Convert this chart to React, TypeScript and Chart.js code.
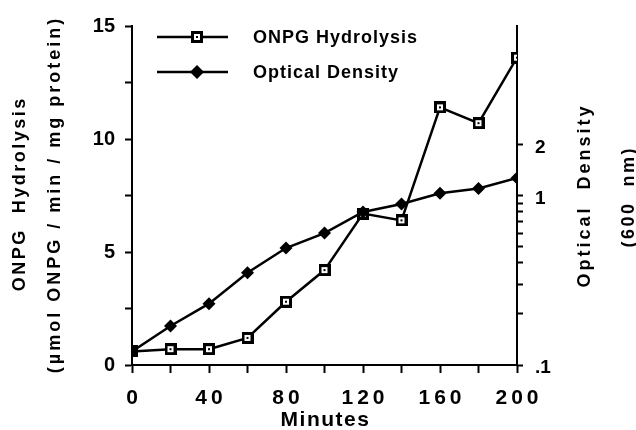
import React, { useEffect, useRef } from 'react';
import { Chart, registerables } from 'chart.js';

Chart.register(...registerables);

const minutes = [0, 20, 40, 60, 80, 100, 120, 140, 160, 180, 200];
const onpgHydrolysis = [0.6, 0.7, 0.7, 1.2, 2.8, 4.2, 6.7, 6.4, 11.4, 10.7, 13.6];
const opticalDensity = [0.12, 0.17, 0.23, 0.35, 0.49, 0.6, 0.8, 0.89, 1.03, 1.1, 1.27];

const xLabeledTicks = [0, 40, 80, 120, 160, 200];
const leftLabeledTicks = [0, 5, 10, 15];
const rightTickValues = [0.1, 0.2, 0.3, 0.4, 0.5, 0.6, 0.7, 0.8, 0.9, 1, 2];
const rightTickLabels: Record<string, string> = { '0.1': '.1', '1': '1', '2': '2' };
const seriesNames = ['ONPG Hydrolysis', 'Optical Density'];
const leftTitle = ['ONPG  Hydrolysis', '(µmol ONPG / min / mg protein)'];
const rightTitle = ['Optical  Density', '(600  nm)'];
const xTitle = 'Minutes';

const FONT = '"Liberation Sans", Arial, Helvetica, sans-serif';

function makeSquare(): HTMLCanvasElement {
  const c = document.createElement('canvas');
  c.width = 12;
  c.height = 12;
  const g = c.getContext('2d')!;
  g.fillStyle = '#000';
  g.fillRect(0, 0, 12, 12);
  g.fillStyle = '#fff';
  g.fillRect(3, 3, 6, 6);
  g.fillStyle = '#000';
  g.fillRect(5, 5, 2, 2);
  return c;
}

function drawRotated(ctx: CanvasRenderingContext2D, text: string, x: number, y: number, spacing: number) {
  ctx.save();
  ctx.translate(x, y);
  ctx.rotate(-Math.PI / 2);
  (ctx as any).letterSpacing = spacing + 'px';
  ctx.textAlign = 'center';
  ctx.textBaseline = 'middle';
  ctx.fillText(text, spacing / 2, 0);
  ctx.restore();
}

export default function App() {
  const ref = useRef<HTMLCanvasElement | null>(null);

  useEffect(() => {
    document.body.style.margin = '0';
    const canvas = ref.current!;
    const square = makeSquare();

    const textPlugin = {
      id: 'texts',
      afterDraw(chart: any) {
        const ctx: CanvasRenderingContext2D = chart.ctx;
        const xs = chart.scales.x;
        ctx.save();
        ctx.fillStyle = '#000';
        ctx.textAlign = 'center';
        ctx.textBaseline = 'middle';

        // x tick labels
        ctx.font = `bold 21px ${FONT}`;
        (ctx as any).letterSpacing = '4px';
        xLabeledTicks.forEach((v) => ctx.fillText(String(v), xs.getPixelForValue(v) + 2, 398));

        // x title
        (ctx as any).letterSpacing = '1.5px';
        ctx.fillText(xTitle, (chart.chartArea.left + chart.chartArea.right) / 2 + 1, 420);

        // axis titles
        ctx.font = `bold 18px ${FONT}`;
        drawRotated(ctx, leftTitle[0], 20, 195, 2.5);
        drawRotated(ctx, leftTitle[1], 55, 196, 3);
        drawRotated(ctx, rightTitle[0], 585, 197, 3);
        drawRotated(ctx, rightTitle[1], 629, 198, 2.5);

        // legend
        ctx.strokeStyle = '#000';
        ctx.lineWidth = 2.5;
        const rows = [37, 72];
        rows.forEach((y, i) => {
          ctx.beginPath();
          ctx.moveTo(157, y);
          ctx.lineTo(228, y);
          ctx.stroke();
          if (i === 0) {
            ctx.drawImage(square, 197 - 6, y - 6);
          } else {
            ctx.beginPath();
            ctx.moveTo(197, y - 7);
            ctx.lineTo(204, y);
            ctx.lineTo(197, y + 7);
            ctx.lineTo(190, y);
            ctx.closePath();
            ctx.fillStyle = '#000';
            ctx.fill();
          }
          ctx.fillStyle = '#000';
          ctx.font = `bold 18px ${FONT}`;
          (ctx as any).letterSpacing = '1px';
          ctx.textAlign = 'left';
          ctx.fillText(seriesNames[i], 253, y + 1);
        });
        ctx.restore();
      },
    };

    const chart = new Chart(canvas, {
      type: 'line',
      data: {
        datasets: [
          {
            label: seriesNames[1],
            data: minutes.map((m, i) => ({ x: m, y: opticalDensity[i] })),
            yAxisID: 'yR',
            borderColor: '#000',
            borderWidth: 2.5,
            pointStyle: 'rectRot',
            pointRadius: 6.5,
            pointBackgroundColor: '#000',
            pointBorderColor: '#000',
            pointBorderWidth: 0,
            tension: 0,
          },
          {
            label: seriesNames[0],
            data: minutes.map((m, i) => ({ x: m, y: onpgHydrolysis[i] })),
            yAxisID: 'y',
            borderColor: '#000',
            borderWidth: 2.5,
            pointStyle: square as any,
            pointRadius: 6,
            tension: 0,
          },
        ],
      },
      options: {
        responsive: false,
        animation: false,
        events: [],
        layout: { padding: { top: 26, left: 0, right: 0, bottom: 0 } },
        plugins: { legend: { display: false }, tooltip: { enabled: false } },
        scales: {
          x: {
            type: 'linear',
            min: 0,
            max: 200,
            ticks: { stepSize: 20, display: false },
            grid: { drawOnChartArea: false, drawTicks: true, tickLength: 8, tickColor: '#000', tickWidth: 2 },
            border: { display: true, color: '#000', width: 2 },
            afterFit: (s: any) => {
              s.height = 65;
            },
          },
          y: {
            type: 'linear',
            position: 'left',
            min: 0,
            max: 15,
            ticks: {
              stepSize: 2.5,
              color: '#000',
              padding: 10,
              font: { family: FONT, size: 20, weight: 'bold' },
              callback: (v: any) => (leftLabeledTicks.includes(Number(v)) ? String(v) : ''),
            },
            grid: { drawOnChartArea: false, drawTicks: true, tickLength: 7, tickColor: '#000', tickWidth: 2 },
            border: { display: true, color: '#000', width: 2 },
            afterFit: (s: any) => {
              s.width = 132;
            },
          },
          yR: {
            type: 'logarithmic',
            position: 'right',
            min: 0.1,
            max: 10,
            afterBuildTicks: (s: any) => {
              s.ticks = rightTickValues.map((v) => ({ value: v }));
            },
            ticks: {
              color: '#000',
              padding: 12,
              labelOffset: 3,
              font: { family: FONT, size: 19, weight: 'bold' },
              callback: (v: any) => rightTickLabels[String(Number(v))] ?? '',
            },
            grid: { drawOnChartArea: false, drawTicks: true, tickLength: 6, tickColor: '#000', tickWidth: 2 },
            border: { display: true, color: '#000', width: 2 },
            afterFit: (s: any) => {
              s.width = 119;
            },
          },
        },
      },
      plugins: [textPlugin],
    } as any);

    return () => chart.destroy();
  }, []);

  return (
    <div style={{ width: 636, height: 430, background: '#fff' }}>
      <canvas ref={ref} width={636} height={430} />
    </div>
  );
}
